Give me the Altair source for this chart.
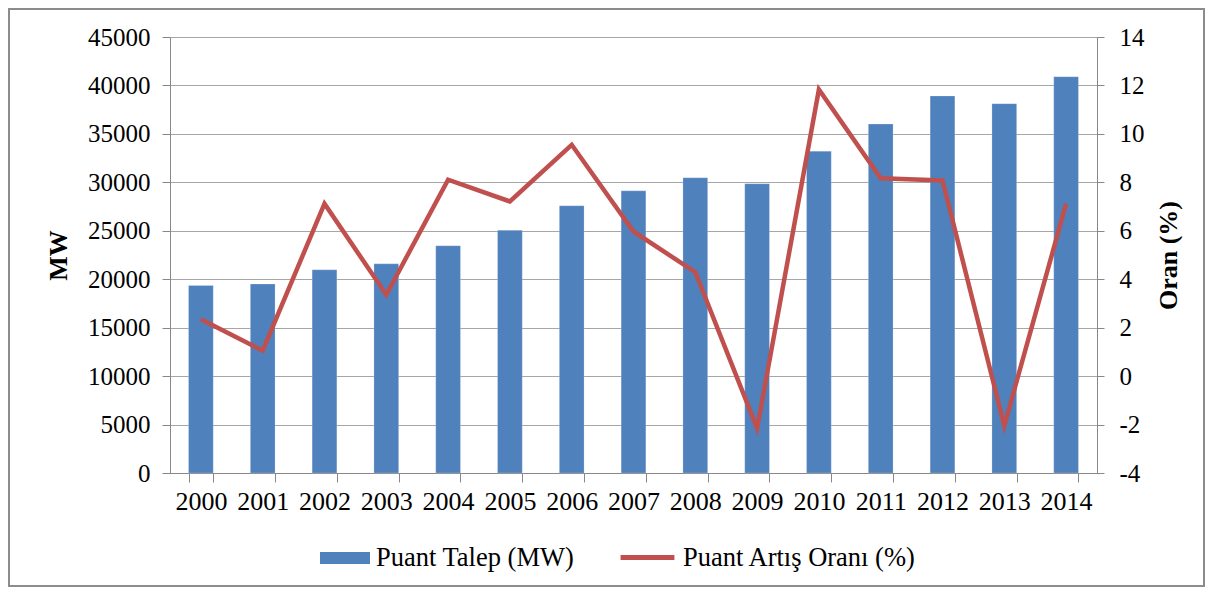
import altair as alt
import pandas as pd

years = ["2000", "2001", "2002", "2003", "2004", "2005", "2006", "2007",
         "2008", "2009", "2010", "2011", "2012", "2013", "2014"]
demand_mw = [19350, 19500, 20970, 21590, 23450, 25060, 27580, 29120,
             30470, 29850, 33220, 36010, 38910, 38120, 40900]
growth_pct = [2.35, 1.05, 7.12, 3.36, 8.11, 7.21, 9.55, 5.97,
              4.29, -2.16, 11.83, 8.17, 8.08, -2.05, 7.12]
left_ticks = [0, 5000, 10000, 15000, 20000, 25000, 30000, 35000, 40000, 45000]
right_ticks = [-4, -2, 0, 2, 4, 6, 8, 10, 12, 14]
bar_name = "Puant Talep (MW)"
line_name = "Puant Artış Oranı (%)"

df = pd.DataFrame({
    "year": years,
    "demand": demand_mw,
    "rate": growth_pct,
    "s1": [bar_name] * len(years),
    "s2": [line_name] * len(years),
})

FONT = "Liberation Serif"
GRID = "#a6a6a6"
AXC = "#888888"

xenc = alt.X("year:N", title=None, sort=years,
             scale=alt.Scale(paddingInner=0.6, paddingOuter=0.3),
             axis=alt.Axis(labelAngle=0, labelFontSize=26, labelFont=FONT,
                           labelColor="black", tickBand="extent", tickSize=9,
                           tickColor=AXC, domainColor=AXC, labelPadding=6,
                           grid=False))

border = alt.Chart(df).mark_rect(filled=False, stroke="#8c8c8c", strokeWidth=2).encode(
    x=alt.value(-161), x2=alt.value(1034), y=alt.value(-28), y2=alt.value(549)
)

bars = alt.Chart(df).mark_bar(stroke="white", strokeOpacity=0.4, strokeWidth=0.5).encode(
    x=xenc,
    y=alt.Y("demand:Q", title="MW",
            scale=alt.Scale(domain=[0, 45000], nice=False),
            axis=alt.Axis(values=left_ticks, format="d", grid=True, gridColor=GRID,
                          tickSize=8, tickColor=AXC, domainColor=AXC,
                          labelFontSize=25, labelFont=FONT, labelColor="black",
                          labelPadding=12, titleFontSize=26, titleFont=FONT,
                          titleFontWeight="bold", titleColor="black",
                          titlePadding=16)),
    fill=alt.Fill("s1:N", scale=alt.Scale(domain=[bar_name], range=["#4F81BD"]),
                  legend=alt.Legend(title=None, orient="none", legendX=150, legendY=496,
                                    symbolType="M-1,-0.24H1V0.24H-1Z", symbolSize=2500,
                                    symbolStrokeWidth=0, labelFontSize=26.5, labelLimit=0,
                                    labelFont=FONT, labelColor="black", labelOffset=6,
                                    padding=0)),
)

line = alt.Chart(df).mark_line(strokeWidth=4.5, strokeJoin="miter").encode(
    x=xenc,
    y=alt.Y("rate:Q", title="Oran (%)",
            scale=alt.Scale(domain=[-4, 14], nice=False),
            axis=alt.Axis(orient="right", values=right_ticks, grid=False,
                          labelExpr="replace(format(datum.value, 'd'), '\u2212', '-')",
                          tickSize=7, tickColor=AXC, domainColor=AXC,
                          labelFontSize=25, labelFont=FONT, labelColor="black",
                          labelPadding=15, titleFontSize=26, titleFont=FONT,
                          titleFontWeight="bold", titleColor="black",
                          titleAngle=270, titlePadding=37)),
    stroke=alt.Stroke("s2:N", scale=alt.Scale(domain=[line_name], range=["#C0504D"]),
                      legend=alt.Legend(title=None, orient="none", legendX=448, legendY=491,
                                        symbolType="stroke", symbolSize=2900,
                                        symbolStrokeWidth=5, labelFontSize=26.5, labelLimit=0,
                                        labelFont=FONT, labelColor="black", labelOffset=6,
                                        padding=0)),
)

chart = alt.layer(border, bars, line).resolve_scale(
    y="independent"
).properties(
    width=927, height=436, padding=0
).configure_view(stroke=None).configure(font=FONT)

chart.save("out.html", embed_options={"renderer": "svg", "actions": False})
